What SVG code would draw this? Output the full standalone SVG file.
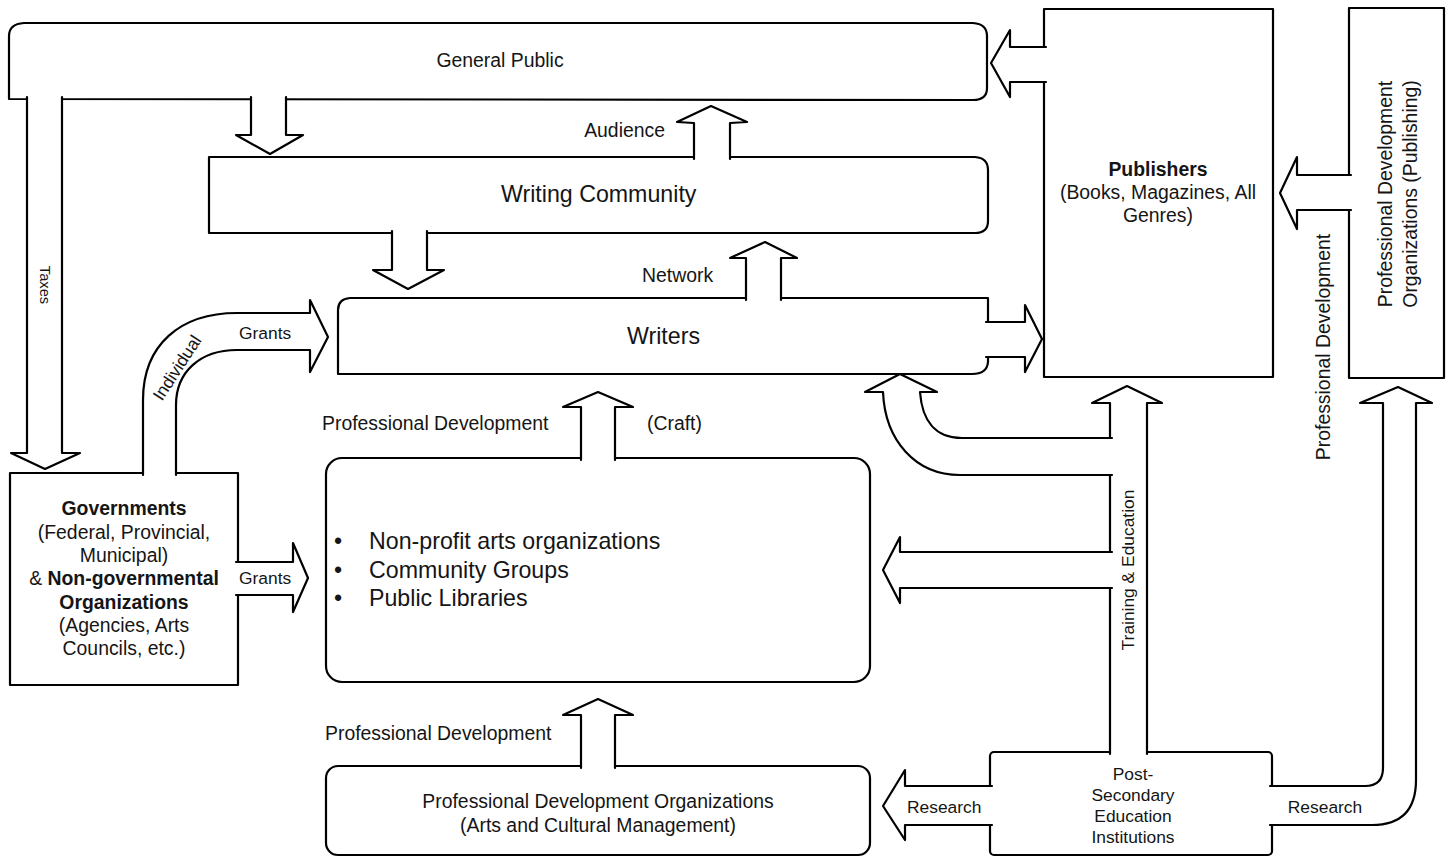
<svg xmlns="http://www.w3.org/2000/svg" width="1450" height="857" viewBox="0 0 1450 857">
<style>
.n{fill:#fff;stroke:#000;stroke-width:2.2;stroke-linejoin:round;stroke-linecap:round}
.c{fill:#fff;stroke:#000;stroke-width:2.2;stroke-linejoin:round;stroke-linecap:round}
.t{font-family:"Liberation Sans",Arial,sans-serif;fill:#151515}
.f23{font-size:23.2px}
.f19{font-size:19.4px}
.f17{font-size:17.4px}
.f15{font-size:14.7px}
.m{text-anchor:middle}
.b{font-weight:bold}
</style>
<rect width="1450" height="857" fill="#fff"/>
<g id="node-general-public">
<path class="n" d="M9,99 V36 Q9,24 24,23 H973 Q987,24 987,36 V88 Q987,100 973,100 Z"/>
<text class="t f19 m" x="500" y="67">General Public</text>
</g>
<g id="node-writing-community">
<path class="n" d="M209,157 H975 Q988,158 988,170 V221 Q988,233 975,233 H209 Z"/>
<text class="t f23" x="501" y="202">Writing Community</text>
</g>
<g id="node-writers">
<path class="n" d="M338,310 Q338,299 350,298 H988 V362 Q987,374 972,374 H338 Z"/>
<text class="t f23" x="627" y="344">Writers</text>
</g>
<g id="node-publishers">
<rect class="n" x="1044" y="9" width="229" height="368"/>
<text class="t f19 m b" x="1158" y="176">Publishers</text>
<text class="t f19 m" x="1158" y="199">(Books, Magazines, All</text>
<text class="t f19 m" x="1158" y="222">Genres)</text>
</g>
<g id="node-pdo-publishing">
<rect class="n" x="1349" y="8" width="95" height="370"/>
<text class="t f19 m" transform="translate(1392,194) rotate(-90)">Professional Development</text>
<text class="t f19 m" transform="translate(1417,194) rotate(-90)">Organizations (Publishing)</text>
</g>
<g id="node-governments">
<rect class="n" x="10" y="473" width="228" height="212"/>
<text class="t f19 m b" x="124" y="515">Governments</text>
<text class="t f19 m" x="124" y="538.5">(Federal, Provincial,</text>
<text class="t f19 m" x="124" y="561.8">Municipal)</text>
<text class="t f19 m" x="124" y="585">&amp; <tspan class="b">Non-governmental</tspan></text>
<text class="t f19 m b" x="124" y="608.5">Organizations</text>
<text class="t f19 m" x="124" y="631.8">(Agencies, Arts</text>
<text class="t f19 m" x="124" y="655">Councils, etc.)</text>
</g>
<g id="node-npo">
<rect class="n" x="326" y="458" width="544" height="224" rx="16"/>
<text class="t f23" x="334" y="549">•</text>
<text class="t f23" x="334" y="578">•</text>
<text class="t f23" x="334" y="606">•</text>
<text class="t f23" x="369" y="549">Non-profit arts organizations</text>
<text class="t f23" x="369" y="578">Community Groups</text>
<text class="t f23" x="369" y="606">Public Libraries</text>
</g>
<g id="node-pdo-arts">
<rect class="n" x="326" y="766" width="544" height="89" rx="12"/>
<text class="t f19 m" x="598" y="808">Professional Development Organizations</text>
<text class="t f19 m" x="598" y="832">(Arts and Cultural Management)</text>
</g>
<g id="node-post-secondary">
<rect class="n" x="990" y="752" width="282" height="103" rx="4"/>
<text class="t f17 m" x="1133" y="780">Post-</text>
<text class="t f17 m" x="1133" y="801">Secondary</text>
<text class="t f17 m" x="1133" y="822">Education</text>
<text class="t f17 m" x="1133" y="843">Institutions</text>
</g>
<g id="connectors">
<g id="c-taxes">
<path class="c" d="M27,97 V453 L11,453 L45,469 L80,453 L62,453 V97"/>
<text class="t f15 m" transform="translate(40,285) rotate(90)">Taxes</text>
</g>
<g id="c-public-to-community">
<path class="c" d="M251,97 V135 L236,135 L270,154 L303,135 L286,135 V97"/>
</g>
<g id="c-audience">
<path class="c" d="M694,159 V123 L677,122 L711,106 L747,122 L730,123 V159"/>
<text class="t f19" x="665" y="137" text-anchor="end">Audience</text>
</g>
<g id="c-community-to-writers">
<path class="c" d="M392,231 V270 L373,270 L408,289 L444,270 L427,270 V231"/>
</g>
<g id="c-network">
<path class="c" d="M746,300 V258 L730,258 L765,242 L797,258 L781,258 V300"/>
<text class="t f19" x="642" y="282">Network</text>
</g>
<g id="c-writers-to-publishers">
<path class="c" d="M986,322 H1025 V305 L1042,339 L1025,372 V357 H986"/>
</g>
<g id="c-publishers-to-public">
<path class="c" d="M1046,47 H1010 V30 L991,63 L1010,97 V82 H1046"/>
</g>
<g id="c-pdo-publishing-to-publishers">
<path class="c" d="M1351,175 H1297 V157 L1280,193 L1297,229 V210 H1351"/>
<text class="t f19 m" transform="translate(1330,347) rotate(-90)">Professional Development</text>
</g>
<g id="c-individual-grants">
<path class="c" d="M143,475 V400 C143,345 180,313 237,313 H310 V300 L328,337 L310,372 V350 H237 C200,350 176,372 176,405 V475"/>
<text class="t f17 m" transform="translate(182,371) rotate(-57)">Individual</text>
<text class="t f17" x="239" y="339">Grants</text>
</g>
<g id="c-grants">
<path class="c" d="M236,562 H293 V543 L308,578 L293,612 V595 H236"/>
<text class="t f17" x="239" y="584">Grants</text>
</g>
<g id="c-npo-to-writers">
<path class="c" d="M581,460 V407 L563,407 L598,392 L633,407 L615,407 V460"/>
<text class="t f19" x="322" y="430">Professional Development</text>
<text class="t f19" x="647" y="430">(Craft)</text>
</g>
<g id="c-pdo-arts-to-npo">
<path class="c" d="M581,768 V715 L563,715 L598,699 L633,715 L615,715 V768"/>
<text class="t f19" x="325" y="740">Professional Development</text>
</g>
<g id="c-research-left">
<path class="c" d="M992,786 H905 V770 L883,806 L905,840 V825 H992"/>
<text class="t f17" x="907" y="813">Research</text>
</g>
<g id="c-training">
<path class="c" d="M1110,754 V403 L1092,403 L1127,386 L1162,403 L1147,403 V754"/>
<text class="t f17 m" transform="translate(1134,570) rotate(-90)">Training &amp; Education</text>
</g>
<g id="c-training-to-npo">
<path class="c" d="M1112,552 H900 V537 L883,570 L900,603 V588 H1112"/>
</g>
<g id="c-training-to-writers">
<path class="c" d="M1112,475 H960 C915,475 885,440 883,392 L865,392 L900,374 L937,392 L920,392 C922,420 935,438 962,438 H1112"/>
</g>
<g id="c-research-right">
<path class="c" d="M1270,786 H1365 Q1383,786 1383,768 V403 L1360,403 L1398,387 L1432,403 L1416,403 V780 Q1416,825 1372,825 H1270"/>
<text class="t f17 m" x="1325" y="813">Research</text>
</g>
</g>
</svg>
